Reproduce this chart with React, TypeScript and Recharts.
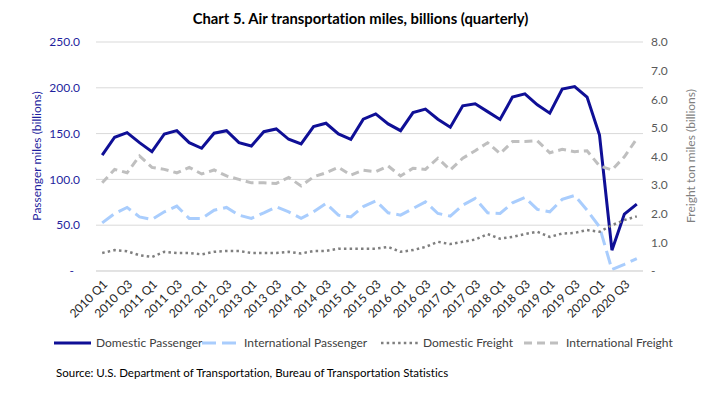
import React from "react";
import { LineChart, Line, CartesianGrid, XAxis, YAxis } from "recharts";

// quarters 2010 Q1 .. 2020 Q4
const years = ["2010", "2011", "2012", "2013", "2014", "2015", "2016", "2017", "2018", "2019", "2020"];
const quarters = years.flatMap((y) => ["Q1", "Q2", "Q3", "Q4"].map((q) => `${y} ${q}`));

// passenger miles, billions (left axis)
const domesticPassenger = [
  126.6, 146.0, 151.1, 140.1, 130.3, 149.6, 153.2, 140.1, 134.0, 150.4, 153.2, 140.1,
  136.5, 152.1, 155.1, 143.8, 138.7, 157.6, 161.3, 149.6, 143.8, 165.7, 171.5, 160.6,
  153.2, 172.9, 176.7, 165.7, 157.0, 180.3, 182.5, 174.0, 165.5, 189.8, 193.4, 181.4,
  172.3, 198.6, 201.4, 189.8, 148.5, 22.7, 62.1, 73.0,
];
const internationalPassenger = [
  52.5, 62.8, 69.4, 59.1, 56.3, 64.6, 70.8, 57.4, 57.4, 66.4, 69.4, 61.0,
  57.4, 63.5, 70.0, 64.6, 57.4, 64.6, 73.8, 61.0, 59.1, 70.3, 76.6, 63.5,
  61.0, 68.3, 75.5, 62.8, 59.9, 71.9, 79.2, 63.5, 62.8, 74.4, 80.3, 67.2,
  64.6, 78.2, 82.5, 66.4, 48.2, 1.5, 7.3, 13.6,
];
// freight ton miles, billions (right axis)
const domesticFreight = [
  0.63, 0.73, 0.69, 0.55, 0.49, 0.67, 0.63, 0.63, 0.58, 0.67, 0.70, 0.70,
  0.63, 0.63, 0.63, 0.67, 0.61, 0.70, 0.70, 0.78, 0.78, 0.78, 0.78, 0.84,
  0.67, 0.73, 0.84, 1.02, 0.94, 1.02, 1.10, 1.29, 1.13, 1.19, 1.29, 1.37,
  1.19, 1.31, 1.33, 1.43, 1.37, 1.60, 1.78, 1.91,
];
const internationalFreight = [
  3.08, 3.55, 3.43, 4.02, 3.62, 3.55, 3.43, 3.62, 3.39, 3.53, 3.32, 3.20,
  3.08, 3.08, 3.06, 3.27, 2.97, 3.29, 3.43, 3.62, 3.35, 3.52, 3.47, 3.67,
  3.32, 3.59, 3.55, 3.94, 3.53, 3.94, 4.20, 4.48, 4.10, 4.52, 4.52, 4.55,
  4.13, 4.25, 4.17, 4.20, 3.67, 3.53, 3.99, 4.62,
];

const leftTicks = [0, 50, 100, 150, 200, 250];
const rightTicks = [0, 1, 2, 3, 4, 5, 6, 7, 8];

const FONT = "Lato, 'Open Sans', sans-serif";

const series = [
  { key: "dp", name: "Domestic Passenger", axis: "left", color: "#0f0f96", width: 3, dash: undefined as string | undefined },
  { key: "ip", name: "International Passenger", axis: "left", color: "#a9cdfd", width: 3, dash: "14 6" },
  { key: "df", name: "Domestic Freight", axis: "right", color: "#7f7f7f", width: 2.5, dash: "2.5 3.2" },
  { key: "if", name: "International Freight", axis: "right", color: "#bfbfbf", width: 3, dash: "8 5" },
];

const data = quarters.map((q, i) => ({
  q,
  dp: domesticPassenger[i],
  ip: internationalPassenger[i],
  df: domesticFreight[i],
  if: internationalFreight[i],
}));

const legendX = [54, 202, 381, 524];

export default function App() {
  return (
    <div style={{ position: "absolute", left: 0, top: 0, width: 721, height: 398, background: "#fff", fontFamily: FONT, fontVariantLigatures: "none" }}>
      <div style={{ position: "absolute", top: 9, width: 721, textAlign: "center", fontWeight: 700, fontSize: 14.8, color: "#000" }}>
        Chart 5. Air transportation miles, billions (quarterly)
      </div>
      <div style={{ position: "absolute", left: 36, top: 156, transform: "translate(-50%, -50%) rotate(-90deg)", whiteSpace: "nowrap", fontSize: 12, color: "#1f1f9e" }}>
        Passenger miles (billions)
      </div>
      <div style={{ position: "absolute", left: 690, top: 156, transform: "translate(-50%, -50%) rotate(-90deg)", whiteSpace: "nowrap", fontSize: 12, color: "#7f7f7f" }}>
        Freight ton miles (billions)
      </div>
      <LineChart width={721} height={398} data={data} margin={{ top: 42, right: 0, left: 0, bottom: 67 }}
        style={{ fontVariantLigatures: "none" }}>
        <CartesianGrid vertical={false} stroke="#d9d9d9" yAxisId="left" />
        <XAxis
          dataKey="q"
          interval={1}
          padding={{ left: 6.2, right: 6.2 }}
          height={60}
          tickLine={false}
          axisLine={{ stroke: "#d9d9d9" }}
          tick={{ angle: -45, textAnchor: "end", fontSize: 12, fill: "#262626", fontFamily: FONT }}
          tickMargin={2}
        />
        <YAxis
          yAxisId="left"
          orientation="left"
          width={96}
          domain={[0, 250]}
          ticks={leftTicks}
          tickLine={false}
          axisLine={false}
          tickMargin={10}
          tickFormatter={(v: number) => (v === 0 ? "-\u00a0\u00a0" : v.toFixed(1))}
          tick={{ fontSize: 12, fill: "#1f1f9e", fontFamily: FONT }}
        />
        <YAxis
          yAxisId="right"
          orientation="right"
          width={78}
          domain={[0, 8]}
          ticks={rightTicks}
          tickLine={false}
          axisLine={false}
          tickFormatter={(v: number) => (v === 0 ? "-" : v.toFixed(1))}
          tick={{ fontSize: 12, fill: "#595959", fontFamily: FONT }}
        />
        {series.map((s) => (
          <Line
            key={s.key}
            yAxisId={s.axis}
            dataKey={s.key}
            name={s.name}
            type="linear"
            stroke={s.color}
            strokeWidth={s.width}
            strokeDasharray={s.dash}
            dot={false}
            isAnimationActive={false}
          />
        ))}
      </LineChart>
      {series.map((s, i) => (
        <div key={s.key} style={{ position: "absolute", left: legendX[i], top: 335, display: "flex", alignItems: "center", fontSize: 12, color: "#404040", whiteSpace: "nowrap" }}>
          <svg width={38} height={12} style={{ marginRight: 4 }}>
            <line x1={0} y1={6} x2={37} y2={6} stroke={s.color} strokeWidth={s.width} strokeDasharray={s.dash} />
          </svg>
          {s.name}
        </div>
      ))}
      <div style={{ position: "absolute", left: 56, top: 366, fontSize: 11.5, color: "#000" }}>
        Source: U.S. Department of Transportation, Bureau of Transportation Statistics
      </div>
    </div>
  );
}
